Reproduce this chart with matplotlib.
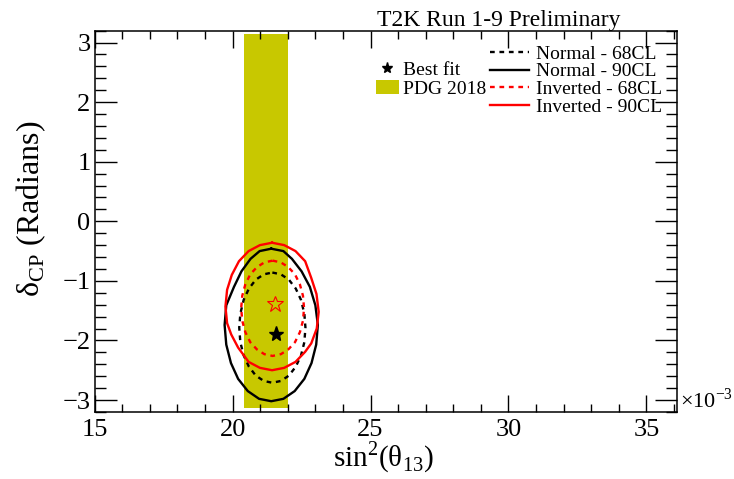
import matplotlib
matplotlib.use("Agg")
import matplotlib.pyplot as plt
from matplotlib.lines import Line2D
from matplotlib.patches import Patch

plt.rcParams['font.family'] = ['Liberation Serif', 'DejaVu Serif']
plt.rcParams['mathtext.fontset'] = 'custom'
plt.rcParams['mathtext.rm'] = 'Liberation Serif'

# sin^2(theta13) in units of 1e-3, delta_CP in radians
normal_68_x = [21.44, 21.75, 22.04, 22.29, 22.48, 22.60, 22.64, 22.60, 22.48, 22.29, 22.04, 21.75,
               21.44, 21.13, 20.84, 20.59, 20.40, 20.28, 20.24, 20.28, 20.40, 20.59, 20.84, 21.13]
normal_68_y = [-0.86, -0.89, -0.98, -1.13, -1.32, -1.55, -1.785, -2.03, -2.25, -2.44, -2.59, -2.68,
               -2.71, -2.68, -2.59, -2.44, -2.25, -2.03, -1.785, -1.55, -1.32, -1.13, -0.98, -0.89]

normal_90_x = [21.40, 21.84, 22.15, 22.50, 22.80, 23.00, 23.09, 23.03, 22.86, 22.60, 22.25, 21.84,
               21.40, 20.96, 20.55, 20.20, 19.94, 19.77, 19.71, 19.77, 20.05, 20.32, 20.65, 20.98]
normal_90_y = [-0.46, -0.50, -0.63, -0.84, -1.10, -1.41, -1.74, -2.07, -2.38, -2.645, -2.85, -2.98,
               -3.02, -2.98, -2.85, -2.645, -2.38, -2.07, -1.74, -1.41, -1.10, -0.84, -0.63, -0.50]

inverted_68_x = [21.45, 21.75, 22.02, 22.26, 22.44, 22.55, 22.59, 22.55, 22.44, 22.26, 22.02, 21.75,
                 21.45, 21.15, 20.88, 20.64, 20.46, 20.35, 20.31, 20.35, 20.46, 20.64, 20.88, 21.15]
inverted_68_y = [-0.66, -0.69, -0.77, -0.89, -1.06, -1.25, -1.46, -1.67, -1.86, -2.03, -2.15, -2.23,
                 -2.26, -2.23, -2.15, -2.03, -1.86, -1.67, -1.46, -1.25, -1.06, -0.89, -0.77, -0.69]

inverted_90_x = [21.43, 21.87, 22.28, 22.63, 22.85, 23.04, 23.12, 23.05, 22.85, 22.63, 22.28, 21.87,
                 21.43, 20.99, 20.58, 20.20, 19.95, 19.80, 19.74, 19.80, 19.97, 20.23, 20.58, 20.99]
inverted_90_y = [-0.36, -0.40, -0.50, -0.67, -0.95, -1.22, -1.52, -1.80, -2.05, -2.19, -2.36, -2.46,
                 -2.50, -2.46, -2.36, -2.12, -1.90, -1.71, -1.43, -1.15, -0.90, -0.67, -0.50, -0.40]

bestfit_normal = (21.56, -1.90)
bestfit_inverted = (21.54, -1.38)

pdg_low, pdg_high = 20.4, 22.0
dcp_min, dcp_max = -3.1416, 3.1416

fig = plt.figure(figsize=(7.34, 4.79), dpi=100)
ax = fig.add_axes([0.129, 0.140, 0.793, 0.796])

yellow = '#c8c800'
ax.fill_between([pdg_low, pdg_high], dcp_min, dcp_max, color=yellow, lw=0, zorder=1)

dots = (0, (2, 2))


def closed(xs, ys):
    return xs + xs[:1], ys + ys[:1]


x, y = closed(normal_68_x, normal_68_y)
ax.plot(x, y, color='black', lw=1.7, ls=dots, zorder=3)
x, y = closed(normal_90_x, normal_90_y)
ax.plot(x, y, color='black', lw=1.7, zorder=3)
x, y = closed(inverted_68_x, inverted_68_y)
ax.plot(x, y, color='red', lw=1.7, ls=dots, zorder=3)
x, y = closed(inverted_90_x, inverted_90_y)
ax.plot(x, y, color='red', lw=1.7, zorder=3)

ax.plot(*bestfit_normal, marker='*', ms=11, color='black', zorder=4)
ax.plot(*bestfit_inverted, marker='*', ms=12, mfc='none', mec='red', mew=0.8, zorder=4)

ax.set_xlim(15, 36.1)
ax.set_ylim(-3.2, 3.2)
ax.set_xticks([15, 20, 25, 30, 35])
ax.set_xticks(range(15, 37), minor=True)
ax.set_yticks([-3, -2, -1, 0, 1, 2, 3])
ax.set_yticks([i / 5 for i in range(-16, 17)], minor=True)
ax.tick_params(which='both', direction='in', top=True, right=True, labelsize=19, width=1)
ax.tick_params(axis='x', which='major', length=12, pad=5)
ax.tick_params(axis='x', which='minor', length=6)
ax.tick_params(axis='y', which='major', length=16, pad=3)
ax.tick_params(axis='y', which='minor', length=8)
for s in ax.spines.values():
    s.set_linewidth(1.1)

ax.text(1.005, 0.03, r'×10$^{-3}$', transform=ax.transAxes, fontsize=16, ha='left', va='center')

fig.text(0.523, 0.008, r'sin$^{2}$(θ$_{13}$)', fontsize=21, ha='center', va='bottom')
fig.text(0.043, 0.565, r'δ$_{\mathrm{CP}}$ (Radians)', fontsize=23, ha='center', va='center', rotation=90)
fig.text(0.845, 0.957, 'T2K Run 1-9 Preliminary', fontsize=17, ha='right', va='center')

h1 = [Line2D([], [], ls='none', marker='*', ms=8, color='black'),
      Patch(facecolor=yellow, edgecolor='none')]
leg1 = ax.legend(h1, ['Best fit', 'PDG 2018'], loc='upper left', bbox_to_anchor=(0.483, 0.92),
                 frameon=False, fontsize=14, handlelength=1.2, handletextpad=0.2,
                 labelspacing=0.08, borderpad=0, borderaxespad=0)
ax.add_artist(leg1)

h2 = [Line2D([], [], color='black', lw=1.7, ls=dots),
      Line2D([], [], color='black', lw=1.7),
      Line2D([], [], color='red', lw=1.7, ls=dots),
      Line2D([], [], color='red', lw=1.7)]
ax.legend(h2, ['Normal - 68CL', 'Normal - 90CL', 'Inverted - 68CL', 'Inverted - 90CL'],
          loc='upper left', bbox_to_anchor=(0.68, 0.962), frameon=False, fontsize=14,
          handlelength=2.0, handletextpad=0.35, labelspacing=0.0, borderpad=0, borderaxespad=0)

fig.savefig('out.png', dpi=100)
